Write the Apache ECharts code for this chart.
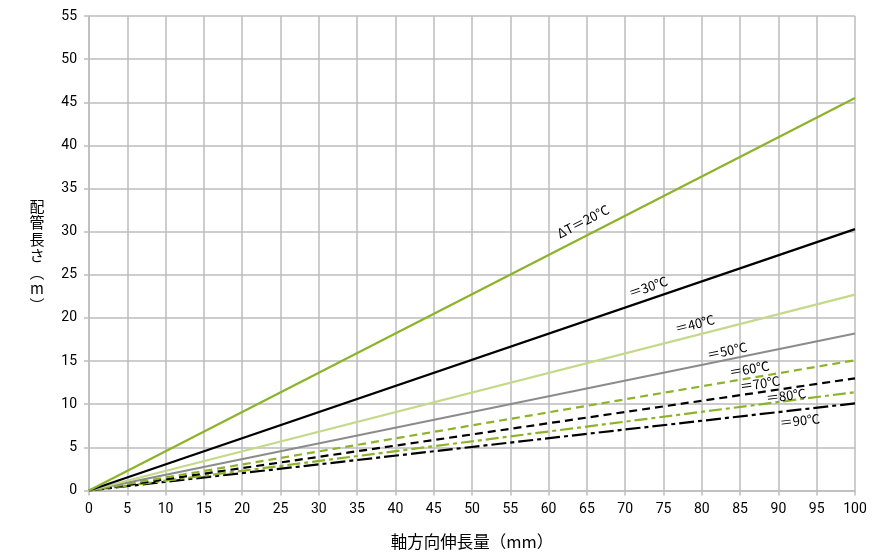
<!DOCTYPE html>
<html>
<head>
<meta charset="utf-8">
<script src="https://cdn.jsdelivr.net/npm/echarts@6/dist/echarts.min.js"></script>
<style>html,body{margin:0;padding:0;background:#fff}#c{width:877px;height:555px}</style>
</head>
<body>
<div id="c"></div>
<script>
// Data
const xEnds = [0, 100];
const seriesNames = ['ΔT＝20℃', '＝30℃', '＝40℃', '＝50℃', '＝60℃', '＝70℃', '＝80℃', '＝90℃'];
const lengthAt100 = [45.5, 30.3, 22.7, 18.2, 15.1, 13.0, 11.4, 10.1];
const labelX = [64.5, 73, 79.1, 83.3, 86.2, 87.6, 91, 92.8];
const labelY = [31.2, 23.6, 19.3, 16.2, 14.1, 12.4, 11.0, 8.1];
const xTicks = [0,5,10,15,20,25,30,35,40,45,50,55,60,65,70,75,80,85,90,95,100];
const yTicks = [0,5,10,15,20,25,30,35,40,45,50,55];
const xTitle = '軸方向伸長量（mm）';
const yTitleChars = ['配', '管', '長', 'さ', '︵', 'm', '︶'];

// Styles
const colors = ['#8cb32a', '#000000', '#c4d98a', '#8c8c8c', '#8cb32a', '#000000', '#8cb32a', '#000000'];
const dashes = ['solid', 'solid', 'solid', 'solid', [8, 5], [8, 5], [13, 4, 4, 4], [15, 4, 4, 4]];
const rotations = [27.2, 18.9, 14.4, 11.6, 9.7, 8.3, 7.3, 6.5];
const numFont = '"Liberation Sans Narrow", Roboto, sans-serif';
const cjkFont = '"Noto Sans CJK JP", sans-serif';

const series = seriesNames.map((name, i) => ({
  name: name,
  type: 'line',
  data: xEnds.map(x => [x, lengthAt100[i] * x / 100]),
  showSymbol: false,
  symbol: 'none',
  lineStyle: { color: colors[i], width: 2.2, type: dashes[i] },
  z: 10 - i,
  animation: false,
  markPoint: {
    symbol: 'circle', symbolSize: 0, animation: false,
    data: [{ coord: [labelX[i], labelY[i]], value: name }],
    label: {
      show: true, formatter: name, rotate: rotations[i], color: '#000',
      fontSize: 13, fontFamily: cjkFont, position: 'inside'
    }
  }
}));

const chart = echarts.init(document.getElementById('c'), null, { renderer: 'canvas' });
chart.setOption({
  animation: false,
  grid: { left: 89, right: 22, top: 16, bottom: 63, containLabel: false, show: false },
  graphic: [{
    type: 'text', x: 37, y: 198, z: 100,
    style: {
      text: yTitleChars.join('\n'), fill: '#000', align: 'center', verticalAlign: 'top',
      font: '15px "Noto Sans CJK JP", sans-serif', lineHeight: 16.5
    }
  }],
  xAxis: {
    type: 'value', min: 0, max: 100, interval: 5,
    name: xTitle, nameLocation: 'middle', nameGap: 43,
    nameTextStyle: { fontFamily: cjkFont, fontSize: 16.5, color: '#000' },
    axisLine: { show: true, lineStyle: { color: '#bdbdbd', width: 1.5 } },
    axisTick: { show: true, length: 5, lineStyle: { color: '#bdbdbd', width: 1.5 } },
    axisLabel: { fontFamily: numFont, fontSize: 14, color: '#000', margin: 12 },
    splitLine: { show: true, lineStyle: { color: '#bdbdbd', width: 1.5 } }
  },
  yAxis: {
    type: 'value', min: 0, max: 55, interval: 5,
    axisLine: { show: true, lineStyle: { color: '#bdbdbd', width: 1.5 } },
    axisTick: { show: true, length: 5, lineStyle: { color: '#bdbdbd', width: 1.5 } },
    axisLabel: { fontFamily: numFont, fontSize: 14, color: '#000', margin: 12 },
    splitLine: { show: true, lineStyle: { color: '#bdbdbd', width: 1.5 } }
  },
  series: series
});
</script>
</body>
</html>
